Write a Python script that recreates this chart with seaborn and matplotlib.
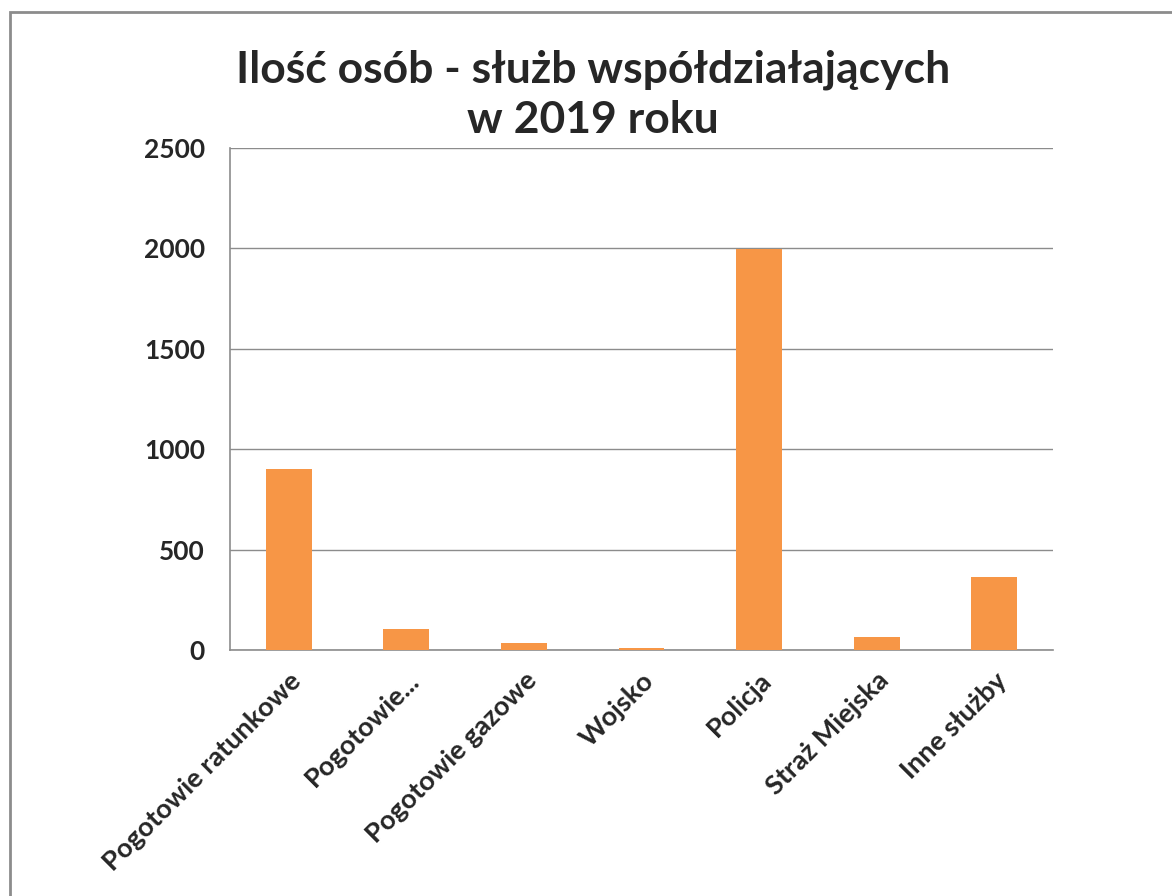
import numpy as np
import pandas as pd
import matplotlib
matplotlib.use('Agg')
import matplotlib.pyplot as plt
import seaborn as sns
from matplotlib.patches import Rectangle

categories = ['Pogotowie ratunkowe', 'Pogotowie...', 'Pogotowie gazowe', 'Wojsko',
              'Policja', 'Straż Miejska', 'Inne służby']
values = [900, 103, 33, 8, 1995, 63, 365]
yticks = [0, 500, 1000, 1500, 2000, 2500]

sns.set_style('white')
plt.rcParams['font.family'] = ['Lato', 'DejaVu Sans']

df = pd.DataFrame({'kat': categories, 'ile': values})

fig = plt.figure(figsize=(11.72, 8.96), dpi=100)
ax = fig.add_axes([230 / 1172, 1 - 650 / 896, (1053 - 230) / 1172, (650 - 148) / 896])

sns.barplot(data=df, x='kat', y='ile', color='#F79646', width=0.39,
            saturation=1, linewidth=0, ax=ax, zorder=3)

ax.set_ylim(0, 2500)
ax.set_xlim(-0.5, len(categories) - 0.5)
ax.set_yticks(yticks)
ax.set_yticklabels([str(v) for v in yticks], fontsize=19, fontweight='bold')
ax.yaxis.grid(True, color='#8c8c8c', linewidth=1, zorder=0)
ax.set_xlabel('')
ax.set_ylabel('')

ax.set_xticks(range(len(categories)))
ax.set_xticklabels(categories, rotation=45, ha='right', rotation_mode='anchor',
                   fontsize=19.5, fontweight='bold')
ax.set_xticks(np.arange(-0.5, len(categories), 1.0), minor=True)
ax.tick_params(axis='x', which='major', length=0, pad=13)
ax.tick_params(axis='x', which='minor', length=8, color='#8c8c8c', width=1.2, direction='out')
ax.tick_params(axis='y', length=8, color='#8c8c8c', width=1.2, direction='out', pad=10)

for side in ['top', 'right']:
    ax.spines[side].set_visible(False)
for side in ['left', 'bottom']:
    ax.spines[side].set_color('#8c8c8c')
    ax.spines[side].set_linewidth(1.2)

fig.text(0.506, 1 - 95 / 896, 'Ilość osób - służb współdziałających\nw 2019 roku',
         ha='center', va='center', fontsize=32, fontweight='bold', linespacing=1.3)

fig.patches.append(Rectangle((10 / 1172, -0.1), 1.2, 1 - 12 / 896 + 0.1,
                             transform=fig.transFigure, fill=False,
                             edgecolor='#8c8c8c', linewidth=2))

fig.savefig('out.png', dpi=100)
